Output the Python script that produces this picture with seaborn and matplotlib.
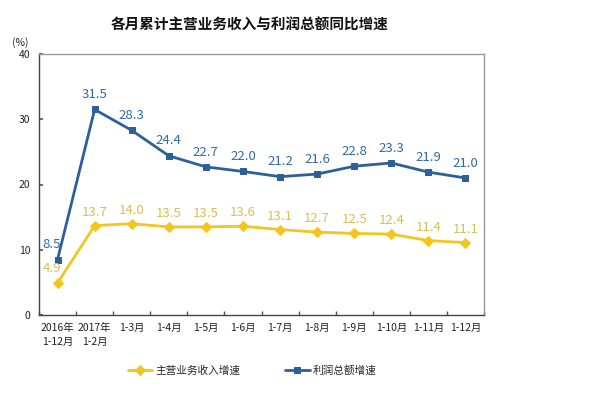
import matplotlib
matplotlib.use("Agg")
import matplotlib.pyplot as plt
import seaborn as sns
import pandas as pd
import numpy as np

categories = ["2016年\n1-12月", "2017年\n1-2月", "1-3月", "1-4月", "1-5月", "1-6月",
              "1-7月", "1-8月", "1-9月", "1-10月", "1-11月", "1-12月"]
income = [4.9, 13.7, 14.0, 13.5, 13.5, 13.6, 13.1, 12.7, 12.5, 12.4, 11.4, 11.1]
profit = [8.5, 31.5, 28.3, 24.4, 22.7, 22.0, 21.2, 21.6, 22.8, 23.3, 21.9, 21.0]
series_names = ["主营业务收入增速", "利润总额增速"]
yticks = [0, 10, 20, 30, 40]

sns.set_theme(style="white")
plt.rcParams['font.family'] = ['Noto Sans CJK SC', 'DejaVu Sans']

YEL = "#F2C61F"
YEL_T = "#D9BE55"
BLU = "#2D5F9A"
BLU_T = "#2F6AA6"

fig = plt.figure(figsize=(5.89, 3.97), dpi=100)
ax = fig.add_axes([39/589, 1-315/397, (484-39)/589, (315-54)/397])

x = np.arange(len(categories))
df = pd.DataFrame({"x": x, "income": income, "profit": profit})

sns.lineplot(data=df, x="x", y="income", ax=ax, color=YEL, lw=2.0, marker="D",
             markersize=5, markeredgecolor=YEL, label=series_names[0])
sns.lineplot(data=df, x="x", y="profit", ax=ax, color=BLU, lw=2.0, marker="s",
             markersize=4.5, markeredgecolor=BLU, label=series_names[1])

for i, v in enumerate(income):
    off = (-4, 6) if i == 0 else (0, 5)
    ax.annotate(f"{v:.1f}", (i, v), xytext=off, textcoords="offset points",
                ha="center", va="bottom", color=YEL_T, fontsize=9.5)
for i, v in enumerate(profit):
    off = (-4, 6) if i == 0 else (0, 6)
    ax.annotate(f"{v:.1f}", (i, v), xytext=off, textcoords="offset points",
                ha="center", va="bottom", color=BLU_T, fontsize=9.5)

ax.set_xlim(-0.5, len(categories) - 0.5)
ax.set_ylim(0, 40)
ax.set_yticks(yticks)
ax.set_yticklabels([str(t) for t in yticks], fontsize=7.5, color="#222222")
ax.set_xticks(x)
ax.set_xticklabels(categories, fontsize=7.5, color="#222222", linespacing=1.5)
ax.set_xticks(np.arange(-0.5, len(categories) + 0.5, 1), minor=True)
ax.tick_params(axis="x", which="major", length=0, pad=6)
ax.tick_params(axis="x", which="minor", direction="in", length=3, color="#555555", bottom=True)
ax.tick_params(axis="y", which="major", direction="in", length=3, color="#555555", left=True, pad=6)
ax.set_xlabel("")
ax.set_ylabel("")
for s in ax.spines.values():
    s.set_color("#999999")
    s.set_linewidth(1.0)
ax.spines["bottom"].set_color("#444444")
ax.spines["left"].set_color("#444444")

for lbl in ax.get_xticklabels():
    lbl.set_verticalalignment("top")

fig.text(20/589, 1-43/397, "(%)", fontsize=7.5, ha="center", va="center", color="#222222")
fig.text(250/589, 1-25/397, "各月累计主营业务收入与利润总额同比增速", fontsize=10.5,
         ha="center", va="center", color="#111111", weight="bold")

ax.get_legend().remove()
h, l = ax.get_legend_handles_labels()
fig.legend(h, l, loc="center", bbox_to_anchor=(252/589, 1-370/397), ncol=2, frameon=False,
           fontsize=7.7, columnspacing=4.2, handlelength=2.3, handletextpad=0.25)

fig.savefig("out.png", dpi=100, facecolor="white")
